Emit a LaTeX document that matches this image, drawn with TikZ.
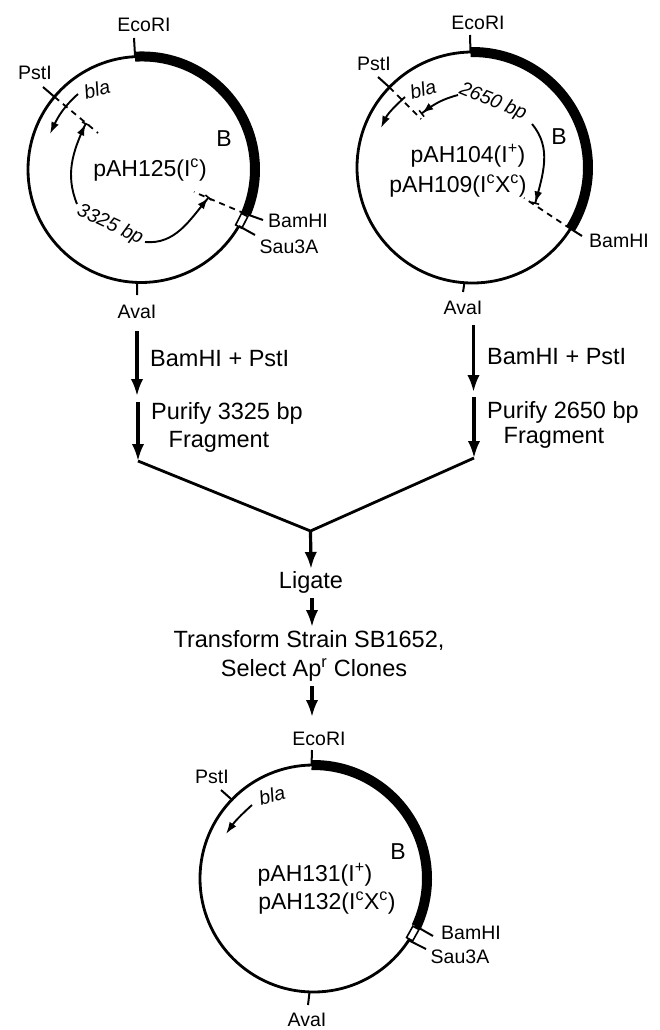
\documentclass[tikz,border=0pt]{standalone}
\usepackage{fontspec}
\setmainfont{Liberation Sans}
\usetikzlibrary{arrows.meta, positioning}

\begin{document}
\begin{tikzpicture}[
  x=1pt, y=1pt, >=Latex,
  plasmid/.style={circle, draw, line width=2.8pt, inner sep=0pt, outer sep=0pt},
  segment/.style={line width=10pt},
  sitebox/.style={rectangle, draw, fill=white, line width=1.6pt, inner sep=0pt, outer sep=0pt, minimum width=7pt, minimum height=13pt},
  site/.style={font=\fontsize{19.5}{22}\selectfont, inner sep=0pt},
  pname/.style={font=\fontsize{23}{26}\selectfont, inner sep=0pt},
  steptxt/.style={font=\fontsize{23.5}{26}\selectfont, inner sep=0pt},
  gene/.style={font=\fontsize{19.5}{22}\selectfont\itshape, inner sep=0pt},
  sitetick/.style={line width=2pt},
  cutline/.style={line width=1.8pt, dash pattern=on 6pt off 5pt},
  blaarrow/.style={line width=1.9pt, -{Latex[length=12pt,width=8pt]}},
  sizearrow/.style={line width=1.9pt, -{Latex[length=11pt,width=8pt]Bar[width=8pt,line width=1.6pt]}},
  flow/.style={line width=3.2pt, -{Latex[length=17pt,width=12.5pt]}},
  joinline/.style={line width=2.8pt}
]
  \useasboundingbox (0,0) rectangle (660,-1030);

  % pAH125
  \node[plasmid, minimum size=226pt] (c1) at (141,-169.5) {};
  \draw[segment] (c1.93.5) arc[start angle=93.5, end angle=-23, radius=113pt];
  \node[sitebox, rotate=-27] (box1) at (c1.-27) {};
  \node[site] (eco1) at (144,-25) {EcoRI};
  \node[site] (pst1) at (35,-73) {PstI};
  \node[site] (ava1) at (137,-312) {AvaI};
  \node[site] (bam1) at (298,-221) {BamHI};
  \node[site] (sau1) at (289,-247) {Sau3A};
  \node[pname] (pah1) at (150,-170) {pAH125(I\textsuperscript{c})};
  \node[pname] (b1) at (224,-139) {B};
  \node[gene, rotate=15] (bla1) at (97,-89) {bla};
  \node[gene, rotate=-25] (len1) at (110,-225) {3325 bp};
  \coordinate (eco1t) at (134,-38);
  \coordinate (pst1t) at (43,-87);
  \coordinate (ava1t) at (137,-295);
  \coordinate (bam1t) at (263,-220);
  \coordinate (sau1t) at (255,-235);
  \coordinate (cut1a) at (98,-133);
  \coordinate (cut1b) at (194,-192);
  \draw[sitetick] (c1.93.5) -- (eco1t);
  \draw[sitetick] (c1.140) -- (pst1t);
  \draw[sitetick] (c1.-92) -- (ava1t);
  \draw[sitetick] (c1.-23) -- (bam1t);
  \draw[sitetick] (c1.-30.5) -- (sau1t);
  \draw[cutline] (c1.140) -- (cut1a);
  \draw[cutline] (c1.-23) -- (cut1b);
  \coordinate (bla1s) at (78,-94);
  \coordinate (bla1e) at (50,-134);
  \coordinate (len1a) at (77,-204);
  \coordinate (len1b) at (86,-123);
  \coordinate (len1c) at (145,-242);
  \coordinate (len1d) at (209,-197);
  \draw[blaarrow] (bla1s) to[out=222, in=65] (bla1e);
  \draw[sizearrow] (len1a) to[out=112, in=245] (len1b);
  \draw[sizearrow] (len1c) to[out=-5, in=230] (len1d);

  % pAH104 / pAH109
  \node[plasmid, minimum size=231pt] (c2) at (472.5,-167.5) {};
  \draw[segment] (c2.91) arc[start angle=91, end angle=-32, radius=115.5pt];
  \node[site] (eco2) at (478,-23) {EcoRI};
  \node[site] (pst2) at (374,-64) {PstI};
  \node[site] (ava2) at (463,-308) {AvaI};
  \node[site] (bam2) at (619,-241) {BamHI};
  \node[pname] (pah2) at (468,-156) {pAH104(I\textsuperscript{+})};
  \node[pname] (pah3) at (458,-186) {pAH109(I\textsuperscript{c}X\textsuperscript{c})};
  \node[pname] (b2) at (559,-137) {B};
  \node[gene, rotate=15] (bla2) at (423,-89) {bla};
  \node[gene, rotate=-22] (len2) at (493,-102) {2650 bp};
  \coordinate (eco2t) at (470,-35);
  \coordinate (pst2t) at (378,-77);
  \coordinate (ava2t) at (463,-292);
  \coordinate (bam2t) at (582,-236);
  \coordinate (cut2a) at (421,-119);
  \coordinate (cut2b) at (524,-198);
  \draw[sitetick] (c2.91) -- (eco2t);
  \draw[sitetick] (c2.136.5) -- (pst2t);
  \draw[sitetick] (c2.-94.7) -- (ava2t);
  \draw[sitetick] (c2.-32) -- (bam2t);
  \draw[cutline] (c2.136.5) -- (cut2a);
  \draw[cutline] (c2.-32) -- (cut2b);
  \coordinate (bla2s) at (405,-97);
  \coordinate (bla2e) at (381,-128);
  \coordinate (len2a) at (458,-95);
  \coordinate (len2b) at (421,-114);
  \coordinate (len2c) at (532,-124);
  \coordinate (len2d) at (535,-204);
  \draw[blaarrow] (bla2s) to[out=222, in=65] (bla2e);
  \draw[sizearrow] (len2a) to[out=195, in=38] (len2b);
  \draw[sizearrow] (len2c) to[out=-50, in=75] (len2d);

  % digestion steps
  \coordinate (a1) at (137,-331);
  \coordinate (a2) at (137,-396);
  \coordinate (a3) at (138,-402);
  \coordinate (a4) at (138,-461);
  \coordinate (a5) at (473.5,-325);
  \coordinate (a6) at (473.5,-392);
  \coordinate (a7) at (474,-397);
  \coordinate (a8) at (474,-458);
  \coordinate (fork) at (310.5,-531);
  \coordinate (a9) at (311,-569);
  \draw[flow] (a1) -- (a2);
  \draw[flow] (a3) -- (a4);
  \draw[flow] (a5) -- (a6);
  \draw[flow] (a7) -- (a8);
  \draw[joinline] (a4) -- (fork) -- (a8);
  \draw[flow] (fork) -- (a9);
  \node[steptxt, anchor=west] (dig1) at (150,-359) {BamHI + PstI};
  \node[steptxt, anchor=west] (pur1) at (151,-413) {Purify 3325 bp};
  \node[steptxt] (fra1) at (219,-442) {Fragment};
  \node[steptxt, anchor=west] (dig2) at (487,-357) {BamHI + PstI};
  \node[steptxt, anchor=west] (pur2) at (487,-412) {Purify 2650 bp};
  \node[steptxt] (fra2) at (554,-438) {Fragment};

  % ligation and transformation
  \node[steptxt] (lig) at (311,-582) {Ligate};
  \node[steptxt] (tra) at (309,-640) {Transform Strain SB1652,};
  \node[steptxt] (sel) at (314,-670) {Select Ap\textsuperscript{r} Clones};
  \coordinate (a10) at (312,-598);
  \coordinate (a11) at (312,-627);
  \coordinate (a12) at (312,-686);
  \coordinate (a13) at (312,-717);
  \draw[flow] (a10) -- (a11);
  \draw[flow] (a12) -- (a13);

  % pAH131 / pAH132
  \node[plasmid, minimum size=227pt] (c3) at (313.5,-878.5) {};
  \draw[segment] (c3.91) arc[start angle=91, end angle=-25, radius=113.5pt];
  \node[sitebox, rotate=-29] (box3) at (c3.-29) {};
  \node[site] (eco3) at (319,-739) {EcoRI};
  \node[site] (pst3) at (212,-777) {PstI};
  \node[site] (ava3) at (307,-1020) {AvaI};
  \node[site] (bam3) at (471,-933) {BamHI};
  \node[site] (sau3) at (460,-957) {Sau3A};
  \node[pname] (pah4) at (315,-875) {pAH131(I\textsuperscript{+})};
  \node[pname] (pah5) at (327,-903) {pAH132(I\textsuperscript{c}X\textsuperscript{c})};
  \node[pname] (b3) at (398,-852) {B};
  \node[gene, rotate=15] (bla3) at (272,-795) {bla};
  \coordinate (eco3t) at (312,-750);
  \coordinate (pst3t) at (221,-790);
  \coordinate (ava3t) at (308,-1005);
  \coordinate (bam3t) at (433,-936);
  \coordinate (sau3t) at (426,-949);
  \coordinate (bla3s) at (252,-805);
  \coordinate (bla3e) at (226,-834);
  \draw[sitetick] (c3.91) -- (eco3t);
  \draw[sitetick] (c3.136) -- (pst3t);
  \draw[sitetick] (c3.-92.8) -- (ava3t);
  \draw[sitetick] (c3.-25) -- (bam3t);
  \draw[sitetick] (c3.-33) -- (sau3t);
  \draw[blaarrow] (bla3s) to[out=222, in=55] (bla3e);
\end{tikzpicture}
\end{document}
